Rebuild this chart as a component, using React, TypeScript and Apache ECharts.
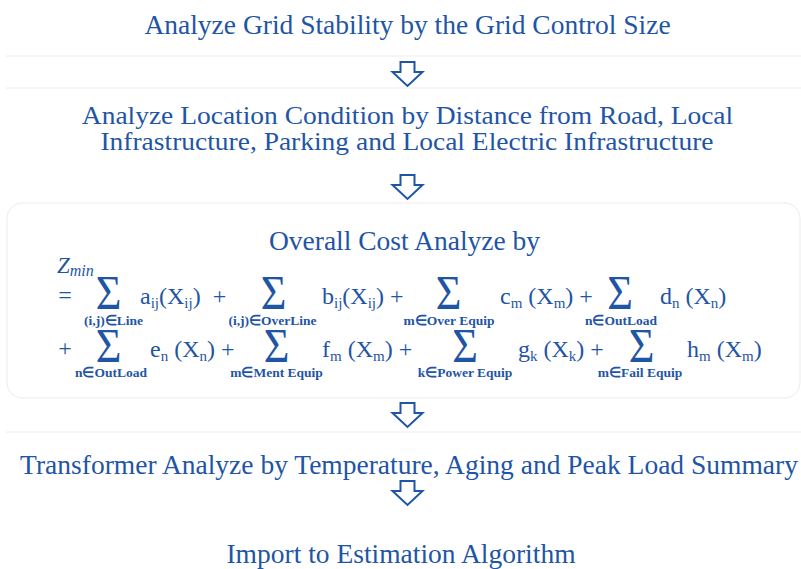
import React, { useEffect, useRef } from "react";
import * as echarts from "echarts";

const TITLES = [
  "Analyze Grid Stability by the Grid Control Size",
  "Analyze Location Condition by Distance from Road, Local",
  "Infrastructure, Parking and Local Electric Infrastructure",
  "Overall Cost Analyze by",
  "Transformer Analyze by Temperature, Aging and Peak Load Summary",
  "Import to Estimation Algorithm",
];

// formula terms: [base letter, subscript of coefficient, subscript of X, trailing, gap]
const ROW1_TERMS = [
  ["a", "ij", "ij", "  +", ""],
  ["b", "ij", "ij", " +", ""],
  ["c", "m", "m", " +", " "],
  ["d", "n", "n", "", " "],
];
const ROW2_TERMS = [
  ["e", "n", "n", " +", " "],
  ["f", "m", "m", " +", " "],
  ["g", "k", "k", " +", " "],
  ["h", "m", "m", "", " "],
];
const ROW1_SETS = ["(i,j)∈Line", "(i,j)∈OverLine", "m∈Over Equip", "n∈OutLoad"];
const ROW2_SETS = ["n∈OutLoad", "m∈Ment Equip", "k∈Power Equip", "m∈Fail Equip"];

const BLUE = "#1f55a5";
const FAINT = "#ececec";
const SERIF = "Liberation Serif";

function title(text: string, x: number, y: number, size = 27.5, sx = 1) {
  return {
    type: "text",
    x,
    y,
    scaleX: sx,
    style: {
      text,
      fill: BLUE,
      fontFamily: SERIF,
      fontSize: size,
      textAlign: "center",
      textVerticalAlign: "middle",
    },
  };
}

function arrow(cx: number, top: number) {
  const h = 24;
  return {
    type: "polygon",
    shape: {
      points: [
        [cx - 7, top],
        [cx + 7, top],
        [cx + 7, top + 10],
        [cx + 15, top + 10],
        [cx, top + h],
        [cx - 15, top + 10],
        [cx - 7, top + 10],
      ],
    },
    style: { fill: "#ffffff", stroke: BLUE, lineWidth: 2, lineJoin: "miter" },
  };
}

function hline(y: number) {
  return {
    type: "line",
    shape: { x1: 6, y1: y, x2: 801, y2: y },
    style: { stroke: FAINT, lineWidth: 1 },
  };
}

function sigma(cx: number, cy: number) {
  return {
    type: "text",
    x: cx,
    y: cy,
    scaleX: 0.92,
    style: {
      text: "Σ",
      fill: BLUE,
      fontFamily: SERIF,
      fontSize: 48,
      textAlign: "center",
      textVerticalAlign: "middle",
    },
  };
}

function setLabel(text: string, cx: number, cy: number) {
  return {
    type: "text",
    x: cx,
    y: cy,
    style: {
      text,
      fill: BLUE,
      fontFamily: SERIF,
      fontWeight: "bold",
      fontSize: 13.5,
      textAlign: "center",
      textVerticalAlign: "middle",
    },
  };
}

function term(t: string[], left: number, cy: number) {
  const [b, s1, s2, tail, gap] = t;
  const txt = `{b|${b}}{s|${s1}}{b|${gap}(X}{s|${s2}}{b|)${tail}}`;
  return {
    type: "text",
    x: left,
    y: cy,
    style: {
      text: txt,
      fill: BLUE,
      fontFamily: SERIF,
      fontSize: 24,
      textAlign: "left",
      textVerticalAlign: "middle",
      rich: {
        b: { fontFamily: SERIF, fontSize: 24, fill: BLUE, lineHeight: 28, verticalAlign: "middle" },
        s: { fontFamily: SERIF, fontSize: 15, fill: BLUE, lineHeight: 15, verticalAlign: "bottom" },
      },
    },
  };
}

export default function App() {
  const ref = useRef<HTMLDivElement>(null);
  useEffect(() => {
    if (!ref.current) return;
    const chart = echarts.init(ref.current, null, { renderer: "svg" });
    const r1Sig = [108.5, 273.5, 448.5, 620];
    const r1Sub = [113.5, 272.5, 449, 621];
    const r1Term = [140, 322, 500, 660];
    const r2Sig = [108.5, 276.5, 465, 641.5];
    const r2Sub = [111, 276.5, 465, 640];
    const r2Term = [150, 322, 518, 687];

    const elements: any[] = [
      hline(56),
      hline(88),
      hline(432),
      {
        type: "rect",
        shape: { x: 7, y: 203, width: 793, height: 195, r: 15 },
        style: { fill: "none", stroke: FAINT, lineWidth: 1 },
      },
      title(TITLES[0], 407.5, 24),
      arrow(407.5, 62),
      title(TITLES[1], 407.5, 115, 25.8, 1.065),
      title(TITLES[2], 407, 141.5, 25.8, 1.065),
      arrow(407.5, 175),
      title(TITLES[3], 404.5, 240),
      {
        type: "text",
        x: 57,
        y: 265,
        style: {
          text: "{z|Z}{m|min}",
          fill: BLUE,
          textAlign: "left",
          textVerticalAlign: "middle",
          rich: {
            z: { fontFamily: SERIF, fontStyle: "italic", fontSize: 23, fill: BLUE, lineHeight: 26, verticalAlign: "middle" },
            m: { fontFamily: SERIF, fontStyle: "italic", fontSize: 16, fill: BLUE, lineHeight: 16, verticalAlign: "bottom" },
          },
        },
      },
      {
        type: "text",
        x: 65,
        y: 295,
        style: { text: "=", fill: BLUE, fontFamily: SERIF, fontSize: 24, textAlign: "center", textVerticalAlign: "middle" },
      },
      {
        type: "text",
        x: 65,
        y: 348,
        style: { text: "+", fill: BLUE, fontFamily: SERIF, fontSize: 24, textAlign: "center", textVerticalAlign: "middle" },
      },
      arrow(407.5, 403),
      title(TITLES[4], 409, 464),
      arrow(407.5, 481),
      title(TITLES[5], 401, 553),
    ];
    ROW1_TERMS.forEach((t, i) => {
      elements.push(sigma(r1Sig[i], 293));
      elements.push(setLabel(ROW1_SETS[i], r1Sub[i], 320));
      elements.push(term(t, r1Term[i], 296));
    });
    ROW2_TERMS.forEach((t, i) => {
      elements.push(sigma(r2Sig[i], 346));
      elements.push(setLabel(ROW2_SETS[i], r2Sub[i], 372));
      elements.push(term(t, r2Term[i], 349));
    });

    chart.setOption({
      animation: false,
      backgroundColor: "#ffffff",
      graphic: { elements },
    });
    return () => chart.dispose();
  }, []);
  return (
    <div
      ref={ref}
      style={{ position: "absolute", left: 0, top: 0, width: 801, height: 569 }}
    />
  );
}
